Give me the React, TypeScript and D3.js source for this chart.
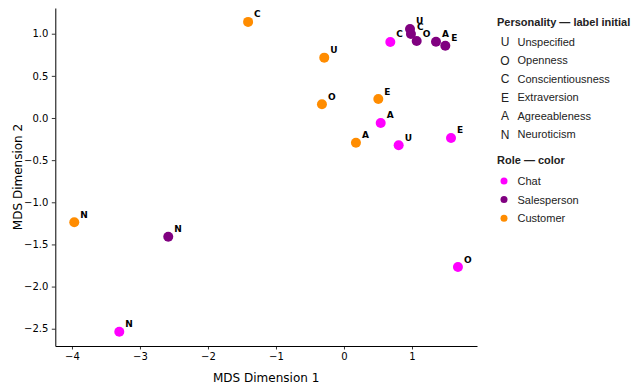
import { useEffect, useRef } from "react";
import * as d3 from "d3";

// personality traits, in the order every series below uses
const traitInitials = ["U", "O", "C", "E", "A", "N"];
const traitNames = [
  "Unspecified",
  "Openness",
  "Conscientiousness",
  "Extraversion",
  "Agreeableness",
  "Neuroticism",
];

const roles = ["Chat", "Salesperson", "Customer"];
const roleColors = ["#ff00ff", "#800080", "#ff8c00"];

// MDS coordinates per role (U, O, C, E, A, N)
const chatX = [0.804, 1.676, 0.681, 1.574, 0.54, -3.304];
const chatY = [-0.324, -1.768, 0.902, -0.237, -0.059, -2.535];
const salesX = [0.971, 1.069, 0.985, 1.49, 1.353, -2.584];
const salesY = [1.056, 0.913, 0.996, 0.858, 0.905, -1.408];
const customerX = [-0.29, -0.324, -1.41, 0.505, 0.176, -3.966];
const customerY = [0.716, 0.163, 1.14, 0.225, -0.293, -1.237];

const xTicks = [-4, -3, -2, -1, 0, 1];
const yTicks = [1.0, 0.5, 0.0, -0.5, -1.0, -1.5, -2.0, -2.5];

const App = () => {
  const svgRef = useRef<SVGSVGElement>(null);

  useEffect(() => {
    const svg = d3.select(svgRef.current);
    svg.selectAll("*").remove();

    const width = 640;
    const height = 388;
    const axisFont = "'DejaVu Sans', sans-serif";
    const legendFont = "'Liberation Sans', Arial, sans-serif";

    svg.attr("width", width).attr("height", height);

    const x = d3.scaleLinear().domain([-4.245, 1.956]).range([55.3, 477]);
    const y = d3.scaleLinear().domain([1.305, -2.705]).range([8, 346]);

    const series = [
      { role: roles[0], color: roleColors[0], xs: chatX, ys: chatY },
      { role: roles[1], color: roleColors[1], xs: salesX, ys: salesY },
      { role: roles[2], color: roleColors[2], xs: customerX, ys: customerY },
    ];
    const points = series.flatMap((s) =>
      traitInitials.map((t, i) => ({
        role: s.role,
        color: s.color,
        trait: t,
        x: s.xs[i],
        y: s.ys[i],
      }))
    );

    // axes (left + bottom spines only)
    const xAxis = svg
      .append("g")
      .attr("transform", `translate(0,${y.range()[1]})`)
      .call(
        d3
          .axisBottom(x)
          .tickValues(xTicks)
          .tickSize(3.5)
          .tickPadding(3.5)
          .tickSizeOuter(0)
          .tickFormat((d) => d3.format("d")(d as number).replace("-", "\u2212"))
      );
    const yAxis = svg
      .append("g")
      .attr("transform", `translate(${x.range()[0]},0)`)
      .call(
        d3
          .axisLeft(y)
          .tickValues(yTicks)
          .tickSize(3.5)
          .tickPadding(3.5)
          .tickSizeOuter(0)
          .tickFormat((d) => d3.format(".1f")(d as number).replace("-", "\u2212"))
      );
    [xAxis, yAxis].forEach((g) => {
      g.select(".domain").attr("stroke", "#000").attr("stroke-width", 1);
      g.selectAll(".tick line").attr("stroke", "#000").attr("stroke-width", 0.8);
      g.selectAll(".tick text")
        .attr("fill", "#000")
        .style("font-family", axisFont)
        .style("font-size", "10px");
    });

    svg
      .append("text")
      .attr("x", (x.range()[0] + x.range()[1]) / 2)
      .attr("y", 381.5)
      .attr("text-anchor", "middle")
      .style("font-family", axisFont)
      .style("font-size", "12px")
      .attr("fill", "#000")
      .text("MDS Dimension 1");

    svg
      .append("text")
      .attr("transform", `translate(21.5,${(y.range()[0] + y.range()[1]) / 2}) rotate(-90)`)
      .attr("text-anchor", "middle")
      .style("font-family", axisFont)
      .style("font-size", "12px")
      .attr("fill", "#000")
      .text("MDS Dimension 2");

    // points
    svg
      .append("g")
      .selectAll("circle")
      .data(points)
      .enter()
      .append("circle")
      .attr("cx", (d) => x(d.x))
      .attr("cy", (d) => y(d.y))
      .attr("r", 5)
      .attr("fill", (d) => d.color);

    // trait initials next to each point
    svg
      .append("g")
      .selectAll("text")
      .data(points)
      .enter()
      .append("text")
      .attr("x", (d) => x(d.x) + 6)
      .attr("y", (d) => y(d.y) - 4.5)
      .style("font-family", axisFont)
      .style("font-size", "9px")
      .style("font-weight", "bold")
      .attr("fill", "#000")
      .text((d) => d.trait);

    // legend
    const legend = svg.append("g").style("font-family", legendFont).attr("fill", "#222");

    legend
      .append("text")
      .attr("x", 497)
      .attr("y", 25.5)
      .style("font-size", "11px")
      .style("font-weight", "bold")
      .text("Personality \u2014 label initial");

    const traitRows = legend
      .selectAll("g.trait")
      .data(traitInitials)
      .enter()
      .append("g")
      .attr("class", "trait")
      .attr("transform", (d, i) => `translate(0,${41.7 + i * 18.5})`);
    traitRows
      .append("text")
      .attr("x", 505)
      .attr("y", 4.3)
      .attr("text-anchor", "middle")
      .style("font-size", "12px")
      .text((d) => d);
    traitRows
      .append("text")
      .attr("x", 517.5)
      .attr("y", 4)
      .style("font-size", "11px")
      .text((d, i) => traitNames[i]);

    legend
      .append("text")
      .attr("x", 497)
      .attr("y", 164)
      .style("font-size", "11px")
      .style("font-weight", "bold")
      .text("Role \u2014 color");

    const roleRows = legend
      .selectAll("g.role")
      .data(roles)
      .enter()
      .append("g")
      .attr("class", "role")
      .attr("transform", (d, i) => `translate(0,${181 + i * 18.6})`);
    roleRows
      .append("circle")
      .attr("cx", 504)
      .attr("cy", 0)
      .attr("r", 3.5)
      .attr("fill", (d, i) => roleColors[i]);
    roleRows
      .append("text")
      .attr("x", 517.5)
      .attr("y", 4)
      .style("font-size", "11px")
      .text((d) => d);
  }, []);

  return (
    <svg
      ref={svgRef}
      style={{ position: "absolute", left: 0, top: 0, background: "#fff" }}
    />
  );
};

export default App;
